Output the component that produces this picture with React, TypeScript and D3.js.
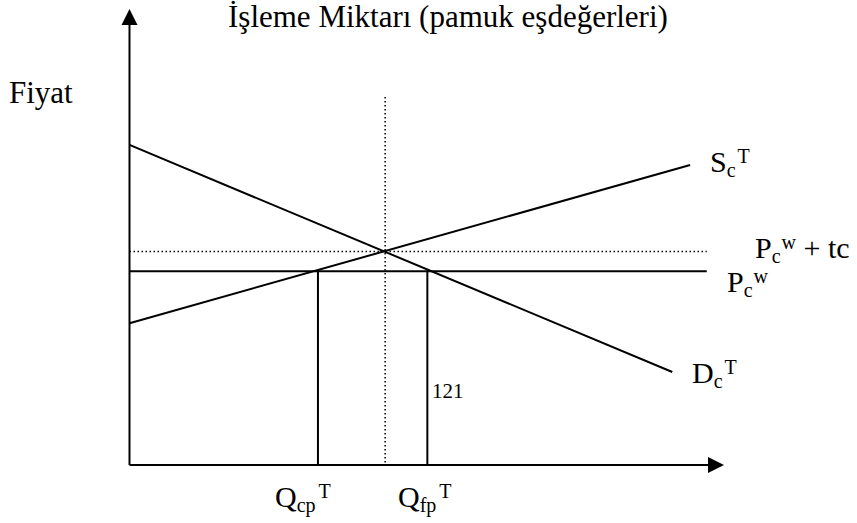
import React from "react";
import * as d3 from "d3";

const W = 857;
const H = 523;

// Quantities (arbitrary units, 0 = price axis)
const qCp = 31.7;
const qFp = 50.1;
const qEq = 43.0;
const qLineEnd = 97.1;
const qDottedTop = 80.7;

// Prices (arbitrary units, 0 = quantity axis)
const pWorld = 42.5;
const pWorldTc = 46.8;

// Curves: [quantity, price]
const supplyCurve: [number, number][] = [
  [0, 31.1],
  [94.3, 65.8],
];
const demandCurve: [number, number][] = [
  [0, 70.2],
  [91.3, 20.4],
];

const titleText = "İşleme Miktarı (pamuk eşdeğerleri)";
const yAxisLabel = "Fiyat";
const valueLabel = "121";

const FONT = "'Liberation Serif', 'Times New Roman', serif";

export default function App() {
  const x = d3.scaleLinear().domain([0, 100]).range([129.5, 724]);
  const y = d3.scaleLinear().domain([0, 100]).range([465, 9]);
  const line = d3
    .line<[number, number]>()
    .x((d) => x(d[0]))
    .y((d) => y(d[1]));

  const x0 = x(0);
  const y0 = y(0);

  const Lbl = ({
    px,
    py,
    main,
    sub,
    sup,
    subDx = 0,
    supDx = 0,
    subDy = 5,
    supDy = -9,
    rest,
  }: any) => (
    <g fontFamily={FONT} fill="#000">
      <text x={px} y={py} fontSize={30}>
        {main}
        {sub && (
          <tspan fontSize={20} dx={subDx} dy={subDy}>
            {sub}
          </tspan>
        )}
        {sup && (
          <tspan fontSize={20} dx={supDx} dy={-subDy + supDy}>
            {sup}
          </tspan>
        )}
        {rest && (
          <tspan fontSize={30} dy={-supDy}>
            {rest}
          </tspan>
        )}
      </text>
    </g>
  );

  return (
    <svg width={W} height={H} style={{ position: "absolute", left: 0, top: 0 }}>
      <rect width={W} height={H} fill="#fff" />
      {/* Title */}
      <text x={228} y={27} fontFamily={FONT} fontSize={31} fill="#000">
        {titleText}
      </text>
      <text x={9} y={103} fontFamily={FONT} fontSize={31} fill="#000">
        {yAxisLabel}
      </text>

      {/* Axes */}
      <line x1={x0} y1={y0} x2={x0} y2={y(100) + 14} stroke="#000" strokeWidth={2} />
      <path d={`M${x0},${y(100)} L${x0 - 8},${y(100) + 16} L${x0 + 8},${y(100) + 16} Z`} fill="#000" />
      <line x1={x0} y1={y0} x2={x(100) - 14} y2={y0} stroke="#000" strokeWidth={2} />
      <path d={`M${x(100)},${y0} L${x(100) - 16},${y0 - 8} L${x(100) - 16},${y0 + 8} Z`} fill="#000" />

      {/* Dotted lines */}
      <line
        x1={x0}
        y1={y(pWorldTc)}
        x2={x(qLineEnd)}
        y2={y(pWorldTc)}
        stroke="#000"
        strokeWidth={1.5}
        strokeDasharray="1.5 2.5"
      />
      <line
        x1={x(qEq)}
        y1={y(qDottedTop)}
        x2={x(qEq)}
        y2={y0}
        stroke="#000"
        strokeWidth={1.5}
        strokeDasharray="1.5 2.5"
      />

      {/* World price */}
      <line x1={x0} y1={y(pWorld)} x2={x(qLineEnd)} y2={y(pWorld)} stroke="#000" strokeWidth={2} />

      {/* Supply & demand */}
      <path d={line(supplyCurve) || ""} stroke="#000" strokeWidth={2} fill="none" />
      <path d={line(demandCurve) || ""} stroke="#000" strokeWidth={2} fill="none" />

      {/* Quantity verticals */}
      <line x1={x(qCp)} y1={y(pWorld)} x2={x(qCp)} y2={y0} stroke="#000" strokeWidth={2} />
      <line x1={x(qFp)} y1={y(pWorld)} x2={x(qFp)} y2={y0} stroke="#000" strokeWidth={2} />

      {/* Labels */}
      <Lbl px={710} py={172} main="S" sub="c" sup="T" subDx={0} supDx={2} />
      <Lbl px={755} py={258} main="P" sub="c" sup="w" supDx={1} rest=" + tc" />
      <Lbl px={727} py={292} main="P" sub="c" sup="w" supDx={1} />
      <Lbl px={692} py={383} main="D" sub="c" sup="T" supDx={2} />
      <Lbl px={275} py={507} main="Q" sub="cp" sup="T" supDx={3} />
      <Lbl px={398} py={507} main="Q" sub="fp" sup="T" supDx={3} />

      <text x={432} y={398} fontFamily={FONT} fontSize={21} fill="#000">
        {valueLabel}
      </text>
    </svg>
  );
}
